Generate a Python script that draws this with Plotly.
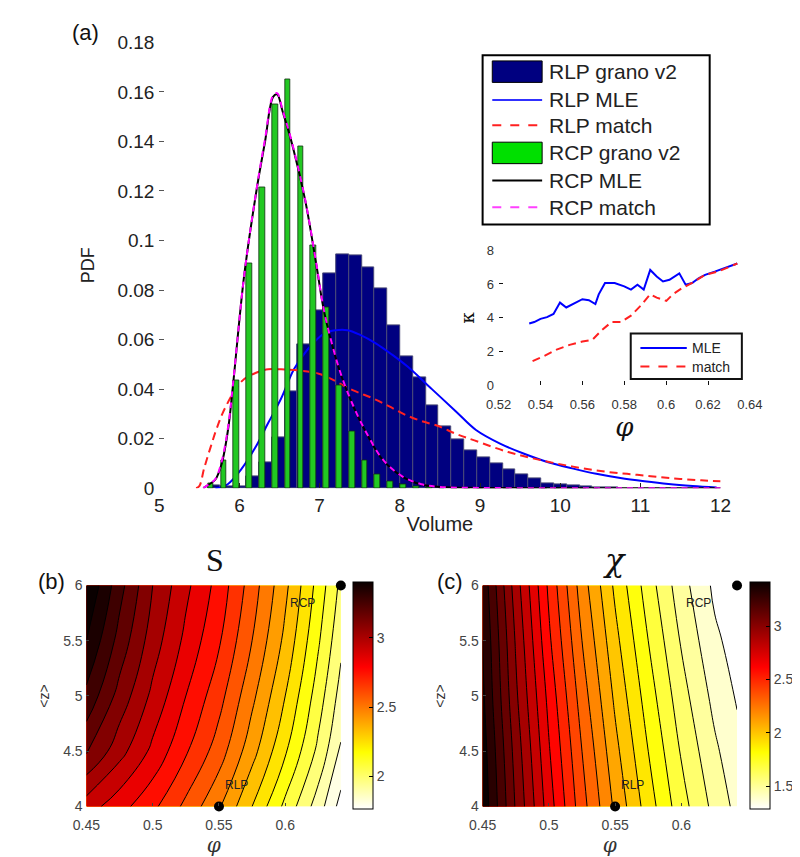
import plotly.graph_objects as go

W, H = 800, 857
def PX(x): return x / W
def PY(y): return 1 - y / H

# ---------------- data: panel (a) histograms ----------------
bin_centers = [5.685, 5.845, 6.005, 6.165, 6.325, 6.485, 6.645, 6.805, 6.965, 7.125,
               7.285, 7.445, 7.605, 7.765, 7.925, 8.085, 8.245, 8.405, 8.565, 8.725,
               8.885, 9.045, 9.205, 9.365, 9.525, 9.685, 9.845, 10.005, 10.165, 10.325,
               10.485, 10.645]
rlp_hist = [0.0012, 0.0008, 0.0008, 0.0047, 0.0106, 0.0205, 0.0389, 0.0579, 0.0717, 0.0868,
            0.0946, 0.0940, 0.0890, 0.0806, 0.0658, 0.0533, 0.0448, 0.0334, 0.0251, 0.0198,
            0.0152, 0.0126, 0.0100, 0.0074, 0.0055, 0.0041, 0.0021, 0.0016, 0.0010, 0.0007,
            0.0005, 0.0003]
rcp_hist = [0.0020, 0.0113, 0.0434, 0.0907, 0.1216, 0.1550, 0.1649, 0.1380, 0.0980, 0.0730,
            0.0415, 0.0231, 0.0113, 0.0054, 0.0028, 0.0015, 0.0008, 0.0004, 0.0, 0.0,
            0.0, 0.0, 0.0, 0.0, 0.0, 0.0, 0.0, 0.0, 0.0, 0.0, 0.0, 0.0]
bin_width = 0.16

# fitted curves
rlp_mle_x = [5.70, 5.85, 6.02, 6.20, 6.36, 6.52, 6.68, 6.85, 7.06, 7.20, 7.35, 7.50, 7.70, 7.90,
             8.10, 8.40, 8.70, 8.95, 9.25, 9.55, 9.85, 10.15, 10.45, 10.75, 11.05, 11.35,
             11.65, 11.95]
rlp_mle_y = [0.000, 0.0015, 0.0075, 0.0165, 0.0264, 0.0362, 0.048, 0.056, 0.0625, 0.0638,
             0.0638, 0.0620, 0.0585, 0.054, 0.049, 0.040, 0.031, 0.0235, 0.018, 0.0139,
             0.0105, 0.008, 0.0058, 0.0041, 0.0028, 0.0017, 0.0009, 0.0003]
rlp_match_x = [5.46, 5.50, 5.56, 5.64, 5.72, 5.82, 6.02, 6.20, 6.36, 6.52, 6.75, 7.00, 7.42,
               7.67, 7.87, 8.07, 8.27, 8.47, 8.71, 8.93, 9.35, 9.76, 10.16, 10.56, 10.96,
               11.36, 11.76, 12.0]
rlp_match_y = [0.0, 0.0008, 0.008, 0.0165, 0.0244, 0.0323, 0.0429, 0.0465, 0.048, 0.048,
               0.0475, 0.0461, 0.0395, 0.0362, 0.033, 0.0296, 0.0271, 0.0252, 0.0218, 0.0193,
               0.0146, 0.0113, 0.0087, 0.0067, 0.0054, 0.0041, 0.0032, 0.0028]
rcp_mle_x = [5.55, 5.62, 5.70, 5.78, 5.86, 5.92, 6.06, 6.22, 6.32, 6.42, 6.47, 6.54, 6.66,
             6.82, 6.96, 7.05, 7.15, 7.27, 7.43, 7.59, 7.79, 8.03, 8.27, 8.50, 9.00, 10.0,
             11.0, 12.0]
rcp_mle_y = [0.0, 0.0015, 0.0035, 0.010, 0.024, 0.0415, 0.086, 0.1216, 0.140, 0.158, 0.159,
             0.152, 0.1386, 0.1163, 0.090, 0.0723, 0.0586, 0.0454, 0.0323, 0.0218, 0.0113,
             0.0047, 0.0015, 0.0005, 0.0001, 0.0, 0.0, 0.0]
rcp_match_x = rcp_mle_x
rcp_match_y = [0.0, 0.0016, 0.0037, 0.011, 0.025, 0.042, 0.086, 0.1220, 0.141, 0.1585, 0.1595,
               0.1525, 0.1390, 0.1165, 0.0905, 0.0725, 0.0588, 0.0456, 0.0325, 0.0220, 0.0115,
               0.0048, 0.0016, 0.0005, 0.0001, 0.0, 0.0, 0.0]

# ---------------- inset: kappa vs phi ----------------
inset_mle_phi = [0.5346, 0.5370, 0.5400, 0.5431, 0.5462, 0.5493, 0.5523, 0.5554, 0.5600, 0.5631,
                 0.5662, 0.5678, 0.5708, 0.5754, 0.5800, 0.5832, 0.5863, 0.5893, 0.5924, 0.5955,
                 0.5985, 0.6016, 0.6063, 0.6093, 0.6124, 0.6155, 0.6186, 0.6232, 0.6278, 0.6340]
inset_mle_k = [3.66, 3.75, 3.94, 4.04, 4.23, 4.90, 4.61, 4.81, 5.10, 5.04,
               4.81, 5.39, 6.06, 6.06, 5.86, 5.67, 5.96, 5.67, 6.83, 6.44,
               6.15, 6.25, 6.63, 5.96, 6.06, 6.34, 6.54, 6.73, 6.92, 7.21]
inset_match_phi = [0.5362, 0.5416, 0.5477, 0.5539, 0.5600, 0.5647, 0.5693, 0.5739, 0.5785, 0.5832,
                   0.5878, 0.5924, 0.5955, 0.6001, 0.6032, 0.6078, 0.6124, 0.6186, 0.6247, 0.6340]
inset_match_k = [1.44, 1.73, 2.12, 2.40, 2.60, 2.69, 3.27, 3.75, 3.75, 4.13,
                 4.71, 5.39, 5.19, 5.00, 5.39, 5.77, 6.06, 6.54, 6.73, 7.21]

# ---------------- panels (b), (c): maps over (phi, <z>) ----------------
phi_grid = [0.45, 0.475, 0.50, 0.525, 0.55, 0.575, 0.60, 0.625, 0.642]
z_grid = [4.0, 4.5, 5.0, 5.5, 6.0]
S_map = [
    [2.88, 2.79, 2.70, 2.58, 2.45, 2.28, 2.10, 1.92, 1.77],
    [3.09, 2.95, 2.82, 2.69, 2.56, 2.39, 2.21, 2.02, 1.87],
    [3.22, 3.05, 2.90, 2.76, 2.63, 2.46, 2.28, 2.08, 1.93],
    [3.32, 3.13, 2.96, 2.82, 2.69, 2.52, 2.34, 2.13, 1.98],
    [3.40, 3.19, 3.00, 2.86, 2.73, 2.56, 2.38, 2.17, 2.02],
]
chi_map = [
    [3.42, 3.04, 2.70, 2.39, 2.13, 1.90, 1.69, 1.52, 1.42],
    [3.40, 3.01, 2.66, 2.35, 2.08, 1.85, 1.64, 1.47, 1.38],
    [3.37, 2.97, 2.62, 2.30, 2.03, 1.80, 1.59, 1.42, 1.34],
    [3.35, 2.94, 2.57, 2.25, 1.98, 1.75, 1.54, 1.37, 1.31],
    [3.32, 2.90, 2.53, 2.20, 1.93, 1.70, 1.49, 1.33, 1.28],
]
S_range = (1.76, 3.40)
chi_range = (1.28, 3.41)
rcp_point = (0.642, 6.0)
rlp_point = (0.55, 4.0)

hot_r = [[0.0, "rgb(255,255,255)"], [0.25, "rgb(255,255,0)"],
         [0.625, "rgb(255,0,0)"], [1.0, "rgb(10,0,0)"]]

fig = go.Figure()

# ---- panel (a) traces (stacking order via zorder) ----
fig.add_trace(go.Bar(x=bin_centers, y=rlp_hist, width=bin_width, name="RLP grano v2",
                     marker=dict(color="#000080", line=dict(color="#4a4a78", width=1)),
                     zorder=0, xaxis="x", yaxis="y", showlegend=False))
fig.add_trace(go.Scatter(x=rlp_mle_x, y=rlp_mle_y, mode="lines", name="RLP MLE",
                         line=dict(color="#0000ff", width=2, shape="spline"), zorder=1,
                         xaxis="x", yaxis="y", showlegend=False))
fig.add_trace(go.Scatter(x=rlp_match_x, y=rlp_match_y, mode="lines", name="RLP match",
                         line=dict(color="#ff2020", width=2, dash="8px,5px", shape="spline"),
                         zorder=1, xaxis="x", yaxis="y", showlegend=False))
fig.add_trace(go.Bar(x=[c - 0.042 for c in bin_centers], y=rcp_hist, width=0.072,
                     name="RCP grano v2",
                     marker=dict(color="#22c822", line=dict(color="#103010", width=0.8)),
                     zorder=2, xaxis="x", yaxis="y", showlegend=False))
fig.add_trace(go.Scatter(x=rcp_mle_x, y=rcp_mle_y, mode="lines", name="RCP MLE",
                         line=dict(color="#000000", width=2, shape="spline"), zorder=3,
                         xaxis="x", yaxis="y", showlegend=False))
fig.add_trace(go.Scatter(x=rcp_match_x, y=rcp_match_y, mode="lines", name="RCP match",
                         line=dict(color="#ff00ff", width=2, dash="6px,5px", shape="spline"),
                         zorder=4, xaxis="x", yaxis="y", showlegend=False))

# ---- inset ----
fig.add_trace(go.Scatter(x=inset_mle_phi, y=inset_mle_k, mode="lines", name="MLE",
                         line=dict(color="#0000ff", width=2), xaxis="x2", yaxis="y2",
                         showlegend=False))
fig.add_trace(go.Scatter(x=inset_match_phi, y=inset_match_k, mode="lines", name="match",
                         line=dict(color="#ff2020", width=2, dash="8px,5px"), xaxis="x2",
                         yaxis="y2", showlegend=False))

FONT = "Liberation Sans, Arial, sans-serif"
cb_common = dict(thickness=20, thicknessmode="pixels", len=226.7, lenmode="pixels",
                 y=PY(695), yanchor="middle", xanchor="left", xpad=0, ypad=0,
                 outlinecolor="black", outlinewidth=1, ticks="inside", ticklen=4,
                 tickcolor="black", tickfont=dict(size=14, color="#444", family=FONT))

def add_map(zmap, zrange, levels, xa, ya, cbx, cbticks, name):
    fig.add_trace(go.Contour(x=phi_grid, y=z_grid, z=zmap, colorscale=hot_r,
                             zmin=zrange[0], zmax=zrange[1], autocontour=False,
                             contours=dict(start=levels[0], end=levels[1], size=levels[2],
                                           coloring="fill"),
                             line=dict(color="black", width=1, smoothing=1.3),
                             showscale=False, name=name,
                             xaxis=xa, yaxis=ya, showlegend=False))
    # continuous colour bar (as in the original)
    fig.add_trace(go.Scatter(x=[phi_grid[0]], y=[z_grid[0]], mode="markers", hoverinfo="skip",
                             marker=dict(size=1, opacity=0, color=[zrange[0]],
                                         colorscale=hot_r, cmin=zrange[0], cmax=zrange[1],
                                         showscale=True,
                                         colorbar=dict(x=cbx, tickvals=cbticks, **cb_common)),
                             xaxis=xa, yaxis=ya, showlegend=False))
    fig.add_trace(go.Scatter(x=[rcp_point[0], rlp_point[0]], y=[rcp_point[1], rlp_point[1]],
                             mode="markers", marker=dict(color="black", size=10),
                             cliponaxis=False, xaxis=xa, yaxis=ya, showlegend=False))

add_map(S_map, S_range, (1.80, 3.40, 0.08), "x3", "y3", PX(343), [2, 2.5, 3], "S")
add_map(chi_map, chi_range, (1.35, 3.35, 0.10), "x4", "y4", PX(753), [1.5, 2, 2.5, 3], "chi")

tick_a = dict(family=FONT, size=19, color="#222")
small = dict(family=FONT, size=14, color="#444")

def map_axes(x0, x1):
    xa = dict(domain=[PX(x0), PX(x1)], range=[0.45, 0.642], tickvals=[0.45, 0.5, 0.55, 0.6],
              ticktext=["0.45", "0.5", "0.55", "0.6"],
              showline=True, mirror=True, linecolor="#777", linewidth=1, ticks="inside",
              ticklen=3, showgrid=False, zeroline=False, tickfont=small,
              ticklabelstandoff=6,
              title=dict(text="φ", font=dict(family="DejaVu Serif", size=20, color="#333",
                                             style="italic"), standoff=0))
    ya = dict(domain=[PY(808.3), PY(581.7)], range=[4, 6], tickvals=[4, 4.5, 5, 5.5, 6],
              showline=True, mirror=True, linecolor="#777", linewidth=1,
              ticks="inside", ticklen=3, showgrid=False, zeroline=False, tickfont=small,
              title=dict(text="<z>", font=dict(family=FONT, size=14, color="#333"),
                         standoff=10))
    return xa, ya

xa3, ya3 = map_axes(66.7, 330)
xa4, ya4 = map_axes(476.7, 740)
xa3["anchor"] = "y3"; ya3["anchor"] = "x3"
xa4["anchor"] = "y4"; ya4["anchor"] = "x4"

fig.update_layout(
    width=W, height=H, autosize=False,
    margin=dict(l=0, r=0, t=0, b=0),
    paper_bgcolor="white", plot_bgcolor="white",
    barmode="overlay", bargap=0,
    font=dict(family=FONT, color="#222"),
    xaxis=dict(domain=[PX(142), PX(723)], range=[5, 12], dtick=1, anchor="y",
               showline=True, linecolor="#222", linewidth=1, ticks="inside", ticklen=5,
               tickcolor="#222", showgrid=False, zeroline=False, tickfont=tick_a,
               title=dict(text="Volume", font=dict(family=FONT, size=20, color="#222"),
                          standoff=2)),
    yaxis=dict(domain=[PY(482), PY(25)], range=[0, 0.18], dtick=0.02, anchor="x",
               showline=True, linecolor="#555", linewidth=1, ticks="inside", ticklen=5,
               tickcolor="#555", showgrid=False, zeroline=False, tickfont=tick_a,
               title=dict(text="PDF", font=dict(family=FONT, size=18, color="#222"),
                          standoff=18)),
    xaxis2=dict(domain=[PX(493.3), PX(753.3)], range=[0.52, 0.64], dtick=0.02, anchor="y2",
                showline=True, mirror=True, linecolor="#111", linewidth=2, ticks="inside",
                ticklen=4, tickcolor="#111", showgrid=False, zeroline=False,
                ticklabelstandoff=6,
                tickfont=dict(family=FONT, size=13, color="#333"),
                title=dict(text="φ", font=dict(family="DejaVu Serif", size=26, color="#111",
                                               style="italic"), standoff=0)),
    yaxis2=dict(domain=[PY(376.7), PY(238)], range=[0, 8], dtick=2, anchor="x2",
                showline=True, mirror=True, linecolor="#111", linewidth=2, ticks="inside",
                ticklen=4, tickcolor="#111", showgrid=False, zeroline=False,
                tickfont=dict(family=FONT, size=13, color="#333"),
                title=dict(text="κ", font=dict(family="DejaVu Serif", size=18, color="#111"),
                           standoff=8)),
    xaxis3=xa3, yaxis3=ya3, xaxis4=xa4, yaxis4=ya4,
)

# ---- manual legend for (a) ----
shapes = []
anns = []
shapes.append(dict(type="rect", xref="paper", yref="paper", x0=PX(476.7), x1=PX(711.7),
                   y0=PY(211.7), y1=PY(38.3), line=dict(color="black", width=2),
                   fillcolor="white", layer="above"))
leg_rows = [
    ("RLP grano v2", "rect", "#000080", None, 55),
    ("RLP MLE", "line", "#3030ff", "solid", 84),
    ("RLP match", "line", "#ff2020", "dash", 110),
    ("RCP grano v2", "rect", "#00e000", None, 138.3),
    ("RCP MLE", "line", "#000000", "solid", 166.7),
    ("RCP match", "line", "#ff40ff", "dash", 194),
]
for text, kind, col, dash, yc in leg_rows:
    if kind == "rect":
        shapes.append(dict(type="rect", xref="paper", yref="paper", x0=PX(486.7), x1=PX(538.3),
                           y0=PY(yc + 11), y1=PY(yc - 11), fillcolor=col,
                           line=dict(color="black", width=1), layer="above"))
    else:
        shapes.append(dict(type="line", xref="paper", yref="paper", x0=PX(486.7), x1=PX(538.3),
                           y0=PY(yc), y1=PY(yc), line=dict(color=col, width=2, dash=dash),
                           layer="above"))
    anns.append(dict(text=text, xref="paper", yref="paper", x=PX(543), y=PY(yc),
                     xanchor="left", yanchor="middle", showarrow=False,
                     font=dict(family=FONT, size=21, color="#222")))

# ---- inset legend ----
shapes.append(dict(type="rect", xref="paper", yref="paper", x0=PX(630), x1=PX(745),
                   y0=PY(370), y1=PY(323.3), line=dict(color="#111", width=2),
                   fillcolor="white", layer="above"))
for text, col, dash, yc in [("MLE", "#0000ff", "solid", 338.3), ("match", "#ff2020", "dash", 357.3)]:
    shapes.append(dict(type="line", xref="paper", yref="paper", x0=PX(640), x1=PX(688),
                       y0=PY(yc), y1=PY(yc), line=dict(color=col, width=2, dash=dash),
                       layer="above"))
    anns.append(dict(text=text, xref="paper", yref="paper", x=PX(691), y=PY(yc),
                     xanchor="left", yanchor="middle", showarrow=False,
                     font=dict(family=FONT, size=14, color="#222")))

# ---- panel labels and titles ----
for text, x, y, size in [("(a)", 66, 15, 22), ("(b)", 31, 578, 22), ("(c)", 443, 578, 22)]:
    anns.append(dict(text=text, xref="paper", yref="paper", x=PX(x), y=PY(y), xanchor="center",
                     yanchor="middle", showarrow=False, font=dict(family=FONT, size=size,
                                                                   color="#111")))
anns.append(dict(text="S", xref="paper", yref="paper", x=PX(200), y=PY(556), xanchor="center",
                 yanchor="middle", showarrow=False,
                 font=dict(family="Liberation Serif, serif", size=32, color="#111")))
anns.append(dict(text="χ", xref="paper", yref="paper", x=PX(613), y=PY(556), xanchor="center",
                 yanchor="middle", showarrow=False,
                 font=dict(family="DejaVu Serif, serif", size=32, color="#111", style="italic")))
for xa, ya in [("x3", "y3"), ("x4", "y4")]:
    anns.append(dict(text="RCP", xref=xa, yref=ya, x=0.613, y=5.84, xanchor="center",
                     yanchor="middle", showarrow=False, font=dict(family=FONT, size=12,
                                                                   color="#222")))
    anns.append(dict(text="RLP", xref=xa, yref=ya, x=0.563, y=4.19, xanchor="center",
                     yanchor="middle", showarrow=False, font=dict(family=FONT, size=12,
                                                                   color="#222")))

fig.update_layout(shapes=shapes, annotations=anns)
fig.write_html("out.html")
